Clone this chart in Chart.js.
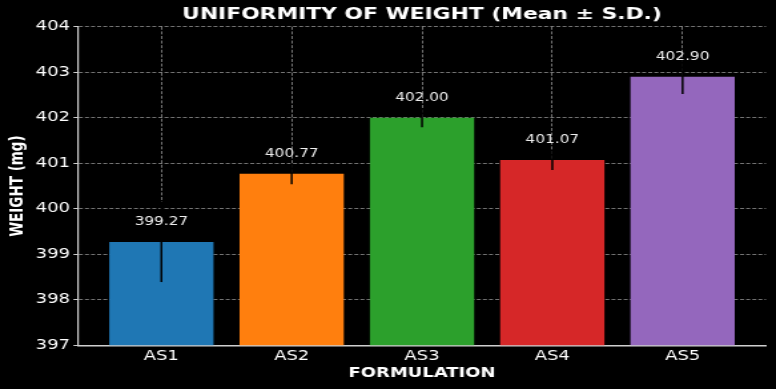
<!DOCTYPE html>
<html><head><meta charset="utf-8">
<script src="https://cdn.jsdelivr.net/npm/chart.js@4.4.0/dist/chart.umd.min.js"></script>
<style>
html,body{margin:0;padding:0;background:#000;overflow:hidden;width:776px;height:389px}
#wrap{position:absolute;left:0;top:0;width:583px;height:389px;transform:scale(1.331,1);transform-origin:0 0}
canvas{display:block}
</style></head><body>
<div id="wrap"><canvas id="c"></canvas></div>
<script>
const categories = ['AS1', 'AS2', 'AS3', 'AS4', 'AS5'];
const meanWeights = [399.27, 400.77, 402.00, 401.07, 402.90];
const sdWeights = [0.88, 0.23, 0.21, 0.22, 0.38];
const barColors = ['#1f77b4', '#ff7f0e', '#2ca02c', '#d62728', '#9467bd'];
const yTicks = [397, 398, 399, 400, 401, 402, 403, 404];

const FONT = '"DejaVu Sans", "Liberation Sans", sans-serif';
const GRID = 'rgba(255,255,255,0.45)';
const AXIS = '#cfcfcf';

const errPlugin = {
  id: 'errbars',
  afterDraw(chart) {
    const ctx = chart.ctx, xs = chart.scales.x, ys = chart.scales.y;
    ctx.save();
    meanWeights.forEach((m, i) => {
      const x = xs.getPixelForValue(i);
      ctx.strokeStyle = '#000';
      ctx.lineWidth = 1.5;
      ctx.beginPath();
      ctx.moveTo(x, ys.getPixelForValue(m - sdWeights[i]));
      ctx.lineTo(x, ys.getPixelForValue(m + sdWeights[i]));
      ctx.stroke();
      ctx.fillStyle = '#eeeeee';
      ctx.font = '11.5px ' + FONT;
      ctx.textAlign = 'center';
      ctx.textBaseline = 'middle';
      ctx.fillText(m.toFixed(2), x, ys.getPixelForValue(m) - 20);
    });
    ctx.restore();
  }
};

new Chart(document.getElementById('c'), {
  type: 'bar',
  data: {
    datasets: [{
      data: categories.map((c, i) => ({ x: i, y: meanWeights[i] })),
      backgroundColor: barColors,
      borderWidth: 0,
      categoryPercentage: 0.8,
      barPercentage: 1.0
    }]
  },
  options: {
    responsive: true,
    maintainAspectRatio: false,
    animation: false,
    layout: { padding: { left: 0, right: 7.5, top: 0, bottom: 0 } },
    plugins: {
      legend: { display: false },
      tooltip: { enabled: false },
      title: {
        display: true,
        fullSize: false,
        text: 'UNIFORMITY OF WEIGHT (Mean ± S.D.)',
        color: '#ffffff',
        font: { family: FONT, size: 16.4, weight: 'bold' },
        padding: { top: 5.1, bottom: 2.0 }
      }
    },
    scales: {
      x: {
        type: 'linear',
        min: -0.64,
        max: 4.64,
        offset: false,
        z: 1,
        afterBuildTicks(scale) { scale.ticks = categories.map((c, i) => ({ value: i })); },
        afterFit(scale) { scale.height = 43.7; },
        ticks: {
          color: '#ffffff',
          font: { family: FONT, size: 13.5 },
          padding: 3,
          autoSkip: false,
          maxRotation: 0,
          callback: (v) => categories[v]
        },
        grid: { offset: false, color: GRID, lineWidth: 1, drawTicks: false },
        border: { display: true, color: AXIS, width: 1.5, dash: [3, 1.6] },
        title: {
          display: true,
          text: 'FORMULATION',
          color: '#ffffff',
          font: { family: FONT, size: 13.5, weight: 'bold' },
          padding: { top: 8.4, bottom: 7 }
        }
      },
      y: {
        type: 'linear',
        min: 397,
        max: 404,
        z: 1,
        afterBuildTicks(scale) { scale.ticks = yTicks.map(v => ({ value: v })); },
        afterFit(scale) { scale.width = 58.6; },
        ticks: {
          color: '#ffffff',
          font: { family: FONT, size: 13.5 },
          padding: 2.6
        },
        grid: { color: GRID, lineWidth: 1, drawTicks: true, tickLength: 3.4, tickColor: AXIS, tickWidth: 1 },
        border: { display: true, color: AXIS, width: 1.2, dash: [3, 1.6] },
        title: {
          display: true,
          text: 'WEIGHT (mg)',
          color: '#ffffff',
          font: { family: FONT, size: 13.5, weight: 'bold' },
          padding: { top: 5.6, bottom: 0 }
        }
      }
    }
  },
  plugins: [errPlugin]
});
</script>
</body></html>
